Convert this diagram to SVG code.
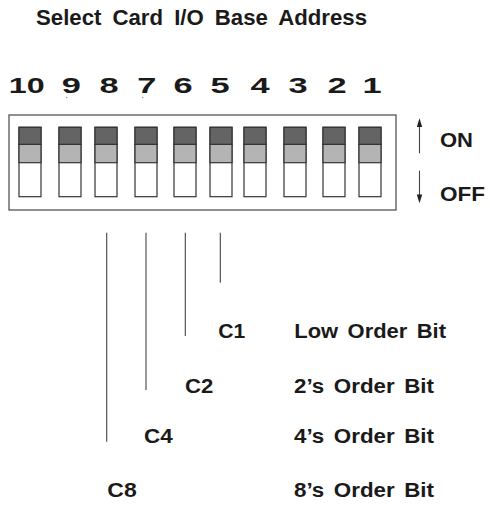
<svg xmlns="http://www.w3.org/2000/svg" width="490" height="508" viewBox="0 0 490 508">
<style>
text{font-family:"Liberation Sans",Arial,sans-serif;font-weight:bold;fill:#1a1a1a}
.title{font-size:22.5px;word-spacing:5px}
.dig{font-size:21.5px;text-anchor:middle}
.lbl{font-size:20px;word-spacing:3px}
.box{fill:#fff;stroke:#555;stroke-width:1.3}
.ln{stroke:#444;stroke-width:1.1;fill:none}
</style>
<defs>
<g id="switch" stroke="#333" stroke-width="1.2">
<rect x="0" y="0" width="22" height="69.4" fill="#fff"/>
<rect x="0" y="17" width="22" height="18.4" fill="#b4b4b4"/>
<rect x="0" y="0" width="22" height="17" fill="#646464"/>
</g>
</defs>
<g id="title"><text class="title" x="36" y="25" textLength="331" lengthAdjust="spacingAndGlyphs">Select Card I/O Base Address</text></g>
<g id="numbers">
<text class="dig" transform="translate(26.7,92.7) scale(1.5,1)">10</text>
<text class="dig" transform="translate(71.3,92.7) scale(1.6,1)">9</text>
<text class="dig" transform="translate(109,92.7) scale(1.6,1)">8</text>
<text class="dig" transform="translate(146.7,92.7) scale(1.6,1)">7</text>
<text class="dig" transform="translate(183,92.7) scale(1.6,1)">6</text>
<text class="dig" transform="translate(220,92.7) scale(1.6,1)">5</text>
<text class="dig" transform="translate(260,92.7) scale(1.6,1)">4</text>
<text class="dig" transform="translate(298,92.7) scale(1.6,1)">3</text>
<text class="dig" transform="translate(337,92.7) scale(1.6,1)">2</text>
<text class="dig" transform="translate(372,92.7) scale(1.6,1)">1</text>
<circle cx="66.7" cy="97.5" r="0.7" fill="#888"/>
<circle cx="142.7" cy="97.5" r="0.7" fill="#888"/>
</g>
<g id="dipswitch">
<rect class="box" x="9" y="115" width="387" height="95"/>
<use href="#switch" x="19" y="127.3"/>
<use href="#switch" x="59" y="127.3"/>
<use href="#switch" x="95" y="127.3"/>
<use href="#switch" x="135" y="127.3"/>
<use href="#switch" x="174" y="127.3"/>
<use href="#switch" x="210" y="127.3"/>
<use href="#switch" x="244" y="127.3"/>
<use href="#switch" x="284" y="127.3"/>
<use href="#switch" x="323" y="127.3"/>
<use href="#switch" x="359" y="127.3"/>
</g>
<g id="on-off">
<line class="ln" x1="419.5" y1="125" x2="419.5" y2="153.3"/>
<polygon points="419.5,118.3 416.8,127 422.2,127" fill="#222"/>
<text class="lbl" x="440" y="146.5" textLength="33" lengthAdjust="spacingAndGlyphs">ON</text>
<line class="ln" x1="419.5" y1="170.7" x2="419.5" y2="197"/>
<polygon points="419.5,203.3 416.8,194.6 422.2,194.6" fill="#222"/>
<text class="lbl" x="440" y="201" textLength="45" lengthAdjust="spacingAndGlyphs">OFF</text>
</g>
<g id="connectors">
<line class="ln" x1="106.7" y1="232.7" x2="106.7" y2="441.7" stroke="#666"/>
<line class="ln" x1="146" y1="232.7" x2="146" y2="390"/>
<line class="ln" x1="185.3" y1="232.7" x2="185.3" y2="336"/>
<line class="ln" x1="220.3" y1="232.7" x2="220.3" y2="282.7"/>
</g>
<g id="c1"><text class="lbl" x="218.3" y="338.3" textLength="27" lengthAdjust="spacingAndGlyphs">C1</text>
<text class="lbl" x="294.3" y="338.3" textLength="151.7" lengthAdjust="spacingAndGlyphs">Low Order Bit</text></g>
<g id="c2"><text class="lbl" x="185" y="392.7" textLength="28.3" lengthAdjust="spacingAndGlyphs">C2</text>
<text class="lbl" x="294" y="392.7" textLength="140" lengthAdjust="spacingAndGlyphs">2’s Order Bit</text></g>
<g id="c4"><text class="lbl" x="144" y="442.7" textLength="28.7" lengthAdjust="spacingAndGlyphs">C4</text>
<text class="lbl" x="294" y="442.7" textLength="140" lengthAdjust="spacingAndGlyphs">4’s Order Bit</text></g>
<g id="c8"><text class="lbl" x="107.3" y="496.7" textLength="29.4" lengthAdjust="spacingAndGlyphs">C8</text>
<text class="lbl" x="294" y="496.7" textLength="140" lengthAdjust="spacingAndGlyphs">8’s Order Bit</text></g>
</svg>
